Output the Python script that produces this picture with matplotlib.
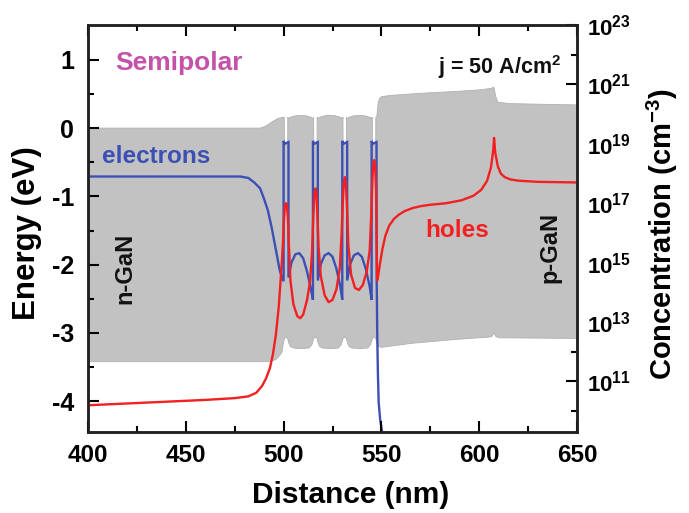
import numpy as np
import matplotlib
matplotlib.use("Agg")
import matplotlib.pyplot as plt
from matplotlib.ticker import FixedLocator, FuncFormatter, NullFormatter

plt.rcParams['font.family'] = ['Liberation Sans', 'DejaVu Sans']
plt.rcParams['font.weight'] = 'bold'
plt.rcParams['axes.unicode_minus'] = False
plt.rcParams['mathtext.fontset'] = 'custom'
plt.rcParams['mathtext.rm'] = 'Liberation Sans:bold'
plt.rcParams['mathtext.bf'] = 'Liberation Sans:bold'
plt.rcParams['mathtext.it'] = 'Liberation Sans:bold:italic'

# ---------------- data ----------------
# grey band: upper (conduction) and lower (valence) band edges, eV
cb_x = [400, 488, 491, 494, 497, 499.8, 500.0,
        500.35, 500.4, 502.1, 502.15,
        502.5, 503.5, 506, 508.8, 511.5, 514, 515.0,
        515.35, 515.4, 517.1, 517.15,
        517.5, 518.5, 521, 523.8, 526.5, 529, 530.0,
        530.35, 530.4, 532.1, 532.15,
        532.5, 533.5, 536, 538.8, 541.5, 544, 545.0,
        545.35, 545.4, 547.1, 547.15,
        547.6, 548.3, 549, 550, 555, 570, 590, 600, 606, 607.5, 608.5, 609.5, 615, 630, 650]
cb_e = [0.0, 0.0, 0.03, 0.09, 0.14, 0.16, 0.16,
        0.16, -0.22, -0.22, 0.16,
        0.14, 0.16, 0.18, 0.185, 0.18, 0.16, 0.14,
        0.16, -0.22, -0.22, 0.16,
        0.14, 0.16, 0.18, 0.185, 0.18, 0.16, 0.14,
        0.16, -0.22, -0.22, 0.16,
        0.14, 0.16, 0.18, 0.185, 0.18, 0.16, 0.14,
        0.16, -0.22, -0.22, 0.16,
        0.15, 0.36, 0.43, 0.46, 0.48, 0.51, 0.54, 0.56, 0.58, 0.60, 0.46, 0.38, 0.36, 0.35, 0.34]

vb_x = [400, 493, 496, 498, 499.2, 499.8, 500.4, 501.25, 502.1, 502.7,
        503.5, 505, 509, 513, 514.5, 515.4, 516.25, 517.1, 517.7,
        518.5, 520, 524, 528, 529.5, 530.4, 531.25, 532.1, 532.7,
        533.5, 535, 539, 543, 544.5, 545.4, 546.25, 547.1, 547.7,
        548.5, 550, 566, 590, 605, 606.5, 607.5, 608.5, 610, 650]
vb_e = [-3.42, -3.42, -3.39, -3.33, -3.28, -3.16, -3.08, -3.06, -3.08, -3.15,
        -3.2, -3.22, -3.23, -3.22, -3.17, -3.08, -3.06, -3.08, -3.15,
        -3.2, -3.22, -3.23, -3.22, -3.17, -3.08, -3.06, -3.08, -3.15,
        -3.2, -3.22, -3.23, -3.22, -3.17, -3.08, -3.06, -3.08, -3.14,
        -3.2, -3.21, -3.15, -3.09, -3.06, -3.05, -3.0, -3.05, -3.07, -3.08]

# electrons: log10 concentration (cm^-3)
el_x = [400, 478, 482, 485, 488, 490, 492, 494, 496, 498, 499.5, 500.0,
        500.0, 500.5, 502.5,
        502.5, 504, 506, 508, 510, 512, 514, 515.0,
        515.0, 515.5, 517.5,
        517.5, 519, 521, 523, 525, 527, 529, 530.0,
        530.0, 530.5, 532.5,
        532.5, 534, 536, 538, 540, 542, 544, 545.0,
        545.0, 545.5, 547.5,
        547.6, 547.9, 548.2, 548.6, 549.4, 550.5, 551.5]
el_log = [17.90, 17.90, 17.85, 17.70, 17.50, 17.15, 16.75, 16.15, 15.45, 14.75, 14.41, 14.41,
          19.10, 19.00, 19.06,
          14.50, 15.00, 15.28, 15.32, 15.15, 14.70, 14.10, 13.75,
          19.10, 19.00, 19.06,
          14.40, 14.95, 15.25, 15.32, 15.20, 14.80, 14.20, 13.75,
          19.10, 19.00, 19.06,
          14.40, 14.95, 15.25, 15.32, 15.20, 14.80, 14.20, 13.75,
          19.10, 19.00, 19.06,
          14.35, 12.5, 11.3, 10.3, 9.7, 9.25, 8.9]

# holes: log10 concentration (cm^-3)
ho_x = [400, 420, 440, 460, 475, 482, 486, 489, 491, 493, 494.5, 496, 497.5, 499, 499.7,
        500.2, 500.7, 501.2, 501.7, 502.2, 502.7, 503.5, 505, 507, 508.5, 510, 512, 513.5,
        514.5, 515.2, 515.8, 516.3, 516.8, 517.3, 517.9, 519, 521, 523, 525, 527, 528.7,
        529.6, 530.3, 530.8, 531.3, 531.8, 532.4, 533.1, 534.5, 536.5, 538.5, 540.5, 542.5,
        544, 544.8, 545.4, 545.9, 546.3, 546.8, 547.3, 547.6, 547.8, 548.2, 549, 550.5,
        552, 554, 556.5, 559, 562, 566, 570, 575, 583, 591, 597, 601, 604, 606, 607.2,
        607.6, 608.2, 609.5, 611, 613, 616, 620, 630, 650]
ho_log = [10.20, 10.26, 10.32, 10.38, 10.44, 10.50, 10.62, 10.85, 11.10, 11.45, 11.90, 12.55, 13.50, 14.90, 15.70,
          16.50, 16.95, 17.00, 16.95, 16.50, 15.60, 14.40, 13.60, 13.20, 13.13, 13.25, 13.75, 14.35,
          15.30, 16.60, 17.35, 17.50, 17.35, 16.60, 15.50, 14.55, 13.90, 13.67, 13.75, 14.10, 14.80,
          15.90, 17.10, 17.70, 17.88, 17.70, 16.90, 15.60, 14.60, 14.15, 14.08, 14.25, 14.70,
          15.40, 16.60, 17.80, 18.35, 18.45, 18.30, 17.40, 15.50, 14.40, 14.50, 14.85, 15.45,
          15.90, 16.25, 16.48, 16.62, 16.74, 16.84, 16.90, 16.95, 17.00, 17.10, 17.25, 17.45, 17.75, 18.20, 18.80,
          19.20, 18.70, 18.25, 18.00, 17.88, 17.80, 17.76, 17.72, 17.70]

x_ticks = [400, 450, 500, 550, 600, 650]
e_ticks = [-4, -3, -2, -1, 0, 1]
c_exps = [11, 13, 15, 17, 19, 21, 23]

# ---------------- colours ----------------
GREY = '#c2c2c2'
BLUE = '#3c50b4'
RED = '#f22020'
MAGENTA = '#c352a8'

fig = plt.figure(figsize=(6.89, 5.13), dpi=100)
fig.subplots_adjust(left=88/689, right=577/689, bottom=(513-432)/513, top=(513-25)/513)
ax = fig.add_subplot(111)
ax2 = ax.twinx()
# right (concentration) layer drawn underneath; energy layer on top
ax2.set_zorder(0)
ax.set_zorder(1)
ax.patch.set_visible(False)

ax.set_xlim(400, 650)
ax.set_ylim(-4.45, 1.51)
ax2.set_yscale('log')
ax2.set_ylim(10**9.3, 1e23)

# grey band drawn in the lower layer, in energy coordinates
ax2.set_axisbelow(True)
ax2.fill(np.concatenate([cb_x, vb_x[::-1]]), np.concatenate([cb_e, vb_e[::-1]]),
         facecolor=GREY, edgecolor='#b0b0b0', lw=0.6, zorder=1, transform=ax.transData)

ax2.plot(el_x, 10**np.array(el_log), color=BLUE, lw=1.7, zorder=3, solid_joinstyle='miter')
ax2.plot(ho_x, 10**np.array(ho_log), color=RED, lw=1.7, zorder=4)

# ticks
ax.xaxis.set_major_locator(FixedLocator(x_ticks))
ax.xaxis.set_minor_locator(FixedLocator([425, 475, 525, 575, 625]))
ax.yaxis.set_major_locator(FixedLocator(e_ticks))
ax.yaxis.set_minor_locator(FixedLocator([-3.5, -2.5, -1.5, -0.5, 0.5]))
ax.tick_params(axis='both', which='both', direction='in', width=1.5, top=True, right=False)
ax.tick_params(which='major', length=8)
ax.tick_params(which='minor', length=4.5)
ax.tick_params(axis='x', labelsize=17.5, pad=9)
ax.tick_params(axis='y', labelsize=18, pad=10)

ax2.yaxis.set_major_locator(FixedLocator([10.0**e for e in c_exps]))
ax2.yaxis.set_minor_locator(FixedLocator([10.0**e for e in range(10, 23, 2)]))
ax2.yaxis.set_major_formatter(FuncFormatter(lambda v, p: r'$\mathbf{10^{%d}}$' % round(np.log10(v))))
ax2.yaxis.set_minor_formatter(NullFormatter())
ax2.tick_params(axis='y', which='both', direction='in', width=1.5, labelsize=16, pad=7)
ax2.tick_params(axis='y', which='major', length=8)
ax2.tick_params(axis='y', which='minor', length=4.5)

for a in (ax, ax2):
    for s in a.spines.values():
        s.set_linewidth(1.8)
        s.set_color('#222222')

# axis labels
fig.text(27/689, 1-233/513, 'Energy (eV)', rotation=90, ha='center', va='center', fontsize=22.5, fontweight='bold')
fig.text(662/689, 1-234/513, r'Concentration (cm$^{\mathbf{-3}}$)', rotation=90, ha='center', va='center',
         fontsize=21, fontweight='bold')
fig.text(351/689, 1-495/513, 'Distance (nm)', ha='center', va='center', fontsize=21.5, fontweight='bold')

# annotations
ax.text(446.5, 0.95, 'Semipolar', color=MAGENTA, fontsize=19, ha='center', va='center', fontweight='bold')
ax.text(642, 0.9, r'j = 50 A/cm$^{\mathbf{2}}$', color='#111111', fontsize=15.5, ha='right', va='center', fontweight='bold')
ax.text(407, -0.42, 'electrons', color=BLUE, fontsize=17.5, ha='left', va='center', fontweight='bold')
ax.text(588.8, -1.5, 'holes', color=RED, fontsize=17.5, ha='center', va='center', fontweight='bold')
ax.text(418.9, -2.06, 'n-GaN', color='#111111', fontsize=17, rotation=90, ha='center', va='center', fontweight='bold')
ax.text(636.2, -1.75, 'p-GaN', color='#111111', fontsize=17, rotation=90, ha='center', va='center', fontweight='bold')

fig.savefig('out.png', dpi=100)
